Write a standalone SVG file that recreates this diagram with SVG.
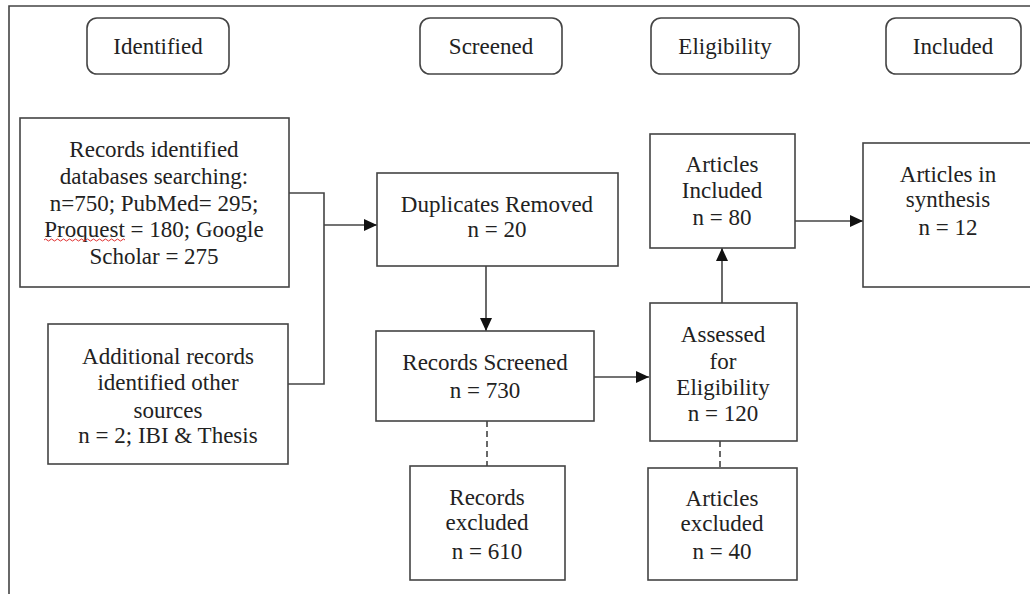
<svg xmlns="http://www.w3.org/2000/svg" width="1030" height="594" viewBox="0 0 1030 594" font-family="Liberation Serif, serif" font-size="23">
<style>
.box{fill:#fff;stroke:#444;stroke-width:1.6}
.hdr{fill:#fff;stroke:#444;stroke-width:1.6}
.ln{fill:none;stroke:#444;stroke-width:1.6}
.dash{fill:none;stroke:#444;stroke-width:1.6;stroke-dasharray:6,4}
text{fill:#222;text-anchor:middle}
</style>
<defs>
<marker id="arr" markerUnits="userSpaceOnUse" markerWidth="14" markerHeight="14" refX="13" refY="7" orient="auto">
<path d="M0,1 L13,7 L0,13 z" fill="#111"/>
</marker>
</defs>
<rect width="1030" height="594" fill="#fff"/>
<path class="ln" d="M9,594 V6 H1030"/>

<g id="hdr-identified"><rect class="hdr" x="87" y="18" width="142" height="56" rx="10"/><text x="158" y="54">Identified</text></g>
<g id="hdr-screened"><rect class="hdr" x="420" y="18" width="142" height="56" rx="10"/><text x="491" y="54">Screened</text></g>
<g id="hdr-eligibility"><rect class="hdr" x="651" y="18" width="148" height="56" rx="10"/><text x="725" y="54">Eligibility</text></g>
<g id="hdr-included"><rect class="hdr" x="886" y="18" width="135" height="56" rx="10"/><text x="953" y="54">Included</text></g>

<g id="connectors">
<path class="ln" d="M289,193 H324 V384 H288"/>
<path class="ln" d="M324,225 H377" marker-end="url(#arr)"/>
<path class="ln" d="M486,266 V331" marker-end="url(#arr)"/>
<path class="ln" d="M594,377 H649" marker-end="url(#arr)"/>
<path class="ln" d="M722,303 V248" marker-end="url(#arr)"/>
<path class="ln" d="M795,221 H863" marker-end="url(#arr)"/>
<path class="dash" d="M487,421 V466"/>
<path class="dash" d="M720,441 V467"/>
</g>

<g id="records-identified"><rect class="box" x="20" y="118" width="269" height="169"/>
<text x="154" y="157">Records identified</text>
<text x="154" y="184">databases searching:</text>
<text x="154" y="211">n=750; PubMed= 295;</text>
<text x="154" y="237">Proquest = 180; Google</text>
<text x="154" y="264">Scholar = 275</text>
<path d="M44,240 q1.5,-2 3,0 t3,0 t3,0 t3,0 t3,0 t3,0 t3,0 t3,0 t3,0 t3,0 t3,0 t3,0 t3,0 t3,0 t3,0 t3,0 t3,0 t3,0 t3,0 t3,0 t3,0 t3,0 t3,0 t3,0 t3,0 t3,0 t3,0" fill="none" stroke="#e03030" stroke-width="1"/>
</g>

<g id="additional-records"><rect class="box" x="48" y="324" width="240" height="140"/>
<text x="168" y="364">Additional records</text>
<text x="168" y="390">identified other</text>
<text x="168" y="418">sources</text>
<text x="168" y="443">n = 2; IBI &amp; Thesis</text>
</g>

<g id="duplicates"><rect class="box" x="377" y="173" width="241" height="93"/>
<text x="497" y="212">Duplicates Removed</text>
<text x="497" y="237">n = 20</text>
</g>

<g id="records-screened"><rect class="box" x="376" y="331" width="218" height="90"/>
<text x="485" y="370">Records Screened</text>
<text x="485" y="398">n = 730</text>
</g>

<g id="records-excluded"><rect class="box" x="410" y="466" width="155" height="114"/>
<text x="487" y="505">Records</text>
<text x="487" y="530">excluded</text>
<text x="487" y="559">n = 610</text>
</g>

<g id="assessed"><rect class="box" x="650" y="303" width="147" height="138"/>
<text x="723" y="342">Assessed</text>
<text x="723" y="369">for</text>
<text x="723" y="395">Eligibility</text>
<text x="723" y="421">n = 120</text>
</g>

<g id="articles-excluded"><rect class="box" x="648" y="468" width="149" height="112"/>
<text x="722" y="506">Articles</text>
<text x="722" y="531">excluded</text>
<text x="722" y="559">n = 40</text>
</g>

<g id="articles-included"><rect class="box" x="650" y="134" width="145" height="114"/>
<text x="722" y="172">Articles</text>
<text x="722" y="198">Included</text>
<text x="722" y="225">n = 80</text>
</g>

<g id="synthesis"><rect class="box" x="863" y="143" width="180" height="144"/>
<text x="948" y="182">Articles in</text>
<text x="948" y="207">synthesis</text>
<text x="948" y="235">n = 12</text>
</g>
</svg>
